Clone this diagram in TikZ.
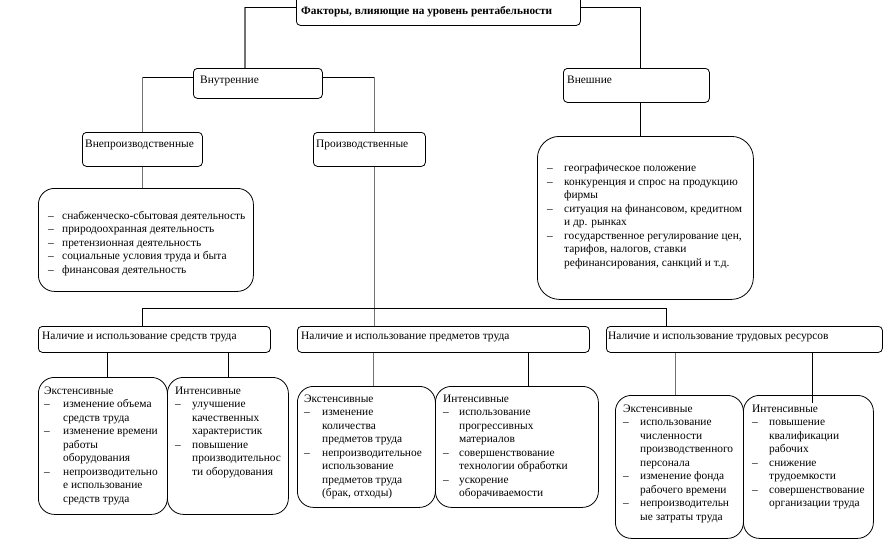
\documentclass[tikz,border=0pt]{standalone}
\usepackage{fontspec}
\setmainfont{Liberation Serif}
\usetikzlibrary{calc}
\newlength\dashind
\setlength\dashind{17pt}
\newcommand\dashitem[1]{\par\noindent\hangindent=\dashind\hangafter=1\makebox[\dashind][l]{–}#1}
\newcommand\headitem[1]{\par\noindent #1}
\newenvironment{blist}[2]{\setlength\dashind{#2}\begin{minipage}[t]{#1}\setlength\parindent{0pt}\setlength\parfillskip{0pt plus 1fil}}{\end{minipage}}
\begin{document}
\begin{tikzpicture}[x=1pt,y=-1pt,
  every node/.style={font=\fontsize{11.4}{13.5}\selectfont},
  box/.style={draw=black, line width=0.8pt, rounded corners=4pt, anchor=north west, inner sep=0pt},
  bigbox/.style={box, rounded corners=16pt},
  txt/.style={inner sep=0pt, anchor=base west, align=left},
  cb/.style={draw=black, line width=0.7pt},
  cg/.style={draw=black!55, line width=1.4pt}]
\useasboundingbox (0,0) rectangle (895,541);
% boxes
\node[box, minimum width=284pt, minimum height=36pt] (T) at (296,-11) {};
\node[box, minimum width=129pt, minimum height=30pt] (Vn) at (193,68) {};
\node[box, minimum width=146pt, minimum height=34pt] (Ex) at (563,68) {};
\node[box, minimum width=120pt, minimum height=34pt] (Vnp) at (82,132) {};
\node[box, minimum width=112pt, minimum height=34pt] (Pr) at (313,132) {};
\node[bigbox, minimum width=215pt, minimum height=103pt] (VnL) at (38,188) {};
\node[bigbox, rounded corners=22pt, minimum width=216pt, minimum height=163pt] (ExL) at (537,136) {};
\node[box, minimum width=232pt, minimum height=26pt] (M1) at (38,326) {};
\node[box, minimum width=292pt, minimum height=26pt] (M2) at (297,326) {};
\node[box, minimum width=276pt, minimum height=26pt] (M3) at (606,326) {};
\node[bigbox, minimum width=129pt, minimum height=137pt] (E1) at (38,377) {};
\node[bigbox, minimum width=121pt, minimum height=137pt] (I1) at (167,377) {};
\node[bigbox, minimum width=138pt, minimum height=121pt] (E2) at (297,386) {};
\node[bigbox, minimum width=163pt, minimum height=121pt] (I2) at (435,386) {};
\node[bigbox, minimum width=128pt, minimum height=143pt] (E3) at (615,395) {};
\node[bigbox, minimum width=130pt, minimum height=143pt] (I3) at (743,395) {};
% texts
\node[txt, font=\fontsize{11.3}{13}\selectfont\bfseries] (Tt) at (301,14) {Факторы, влияющие на уровень рентабельности};
\node[txt] (VnT) at (200,83) {Внутренние};
\node[txt] (ExT) at (567,83) {Внешние};
\node[txt] (VnpT) at (85,147) {Внепроизводственные};
\node[txt] (PrT) at (316,147) {Производственные};
\node[txt] (VnLT) at (48,219) {\begin{blist}{250pt}{14pt}
\dashitem{снабженческо-сбытовая деятельность}
\dashitem{природоохранная деятельность}
\dashitem{претензионная деятельность}
\dashitem{социальные условия труда и быта}
\dashitem{финансовая деятельность}
\end{blist}};
\node[txt] (ExLT) at (547,171.5) {\begin{blist}{250pt}{17pt}
\dashitem{географическое положение}
\dashitem{конкуренция и спрос на продукцию\\фирмы}
\dashitem{ситуация на финансовом, кредитном\\и др. рынках}
\dashitem{государственное регулирование цен,\\тарифов, налогов, ставки\\рефинансирования, санкций и т.д.}
\end{blist}};
\node[txt] (M1T) at (42,339) {Наличие и использование средств труда};
\node[txt] (M2T) at (301,339) {Наличие и использование предметов труда};
\node[txt] (M3T) at (608,339) {Наличие и использование трудовых ресурсов};
\node[txt] (E1T) at (44,394) {\begin{blist}{200pt}{19pt}
\headitem{Экстенсивные}
\dashitem{изменение объема\\средств труда}
\dashitem{изменение времени\\работы\\оборудования}
\dashitem{непроизводительно\\е использование\\средств труда}
\end{blist}};
\node[txt] (I1T) at (175,394) {\begin{blist}{200pt}{17pt}
\headitem{Интенсивные}
\dashitem{улучшение\\качественных\\характеристик}
\dashitem{повышение\\производительнос\\ти оборудования}
\end{blist}};
\node[txt] (E2T) at (304,402) {\begin{blist}{200pt}{18pt}
\headitem{Экстенсивные}
\dashitem{изменение\\количества\\предметов труда}
\dashitem{непроизводительное\\использование\\предметов труда\\(брак, отходы)}
\end{blist}};
\node[txt] (I2T) at (443,402) {\begin{blist}{200pt}{16pt}
\headitem{Интенсивные}
\dashitem{использование\\прогрессивных\\материалов}
\dashitem{совершенствование\\технологии обработки}
\dashitem{ускорение\\оборачиваемости}
\end{blist}};
\node[txt] (E3T) at (623,412) {\begin{blist}{200pt}{17pt}
\headitem{Экстенсивные}
\dashitem{использование\\численности\\производственного\\персонала}
\dashitem{изменение фонда\\рабочего времени}
\dashitem{непроизводительн\\ые затраты труда}
\end{blist}};
\node[txt] (I3T) at (752,412) {\begin{blist}{200pt}{17pt}
\headitem{Интенсивные}
\dashitem{повышение\\квалификации\\рабочих}
\dashitem{снижение\\трудоемкости}
\dashitem{совершенствование\\организации труда}
\end{blist}};
% connectors
\coordinate (a1) at ($(Vn.north west)+(52,0)$);
\draw[cg] (a1) -- (a1 |- T.west);
\draw[cb] (a1 |- T.west) -- (T.west);
\coordinate (a2) at ($(Ex.north west)+(77,0)$);
\draw[cb] (T.east) -| (a2);
\coordinate (a3) at ($(Vn.west)+(0,-6)$);
\draw[cb] (a3) -- (a3 -| Vnp.north);
\draw[cg] (a3 -| Vnp.north) -- (Vnp.north);
\coordinate (a4) at ($(Vn.east)+(0,-6)$);
\coordinate (a5) at ($(Pr.north)+(5,0)$);
\draw[cb] (a4) -- (a4 -| a5);
\draw[cg] (a4 -| a5) -- (a5);
\coordinate (a6) at ($(Ex.south)+(4,0)$);
\draw[cb] (a6) -- (a6 |- ExL.north);
\draw[cg] (Vnp.south) -- (Vnp.south |- VnL.north);
\coordinate (a7) at ($(Pr.south)+(5,0)$);
\draw[cg] (a7) -- (a7 |- M2.north);
\coordinate (b1) at ($(M1.north)+(-12,0)$);
\coordinate (b3) at ($(M3.north)+(-78,0)$);
\draw[cb] (b1) -- ++(0,-18) -| (b3);
\coordinate (s1) at ($(E1.north)+(4.5,0)$);
\draw[cb] (s1) -- (s1 |- M1.south);
\draw[cb] (I1.north) -- (I1.north |- M1.south);
\coordinate (s2) at ($(E2.north)+(7,0)$);
\draw[cg] (s2) -- (s2 |- M2.south);
\coordinate (s3) at ($(I2.north)+(11.5,0)$);
\draw[cb] (s3) -- (s3 |- M2.south);
\coordinate (s4) at ($(E3.north)+(-4,0)$);
\draw[cg] (s4) -- (s4 |- M3.south);
\coordinate (s5) at ($(I3.north)+(4,8)$);
\draw[cb] (s5) -- (s5 |- M3.south);
\end{tikzpicture}
\end{document}
